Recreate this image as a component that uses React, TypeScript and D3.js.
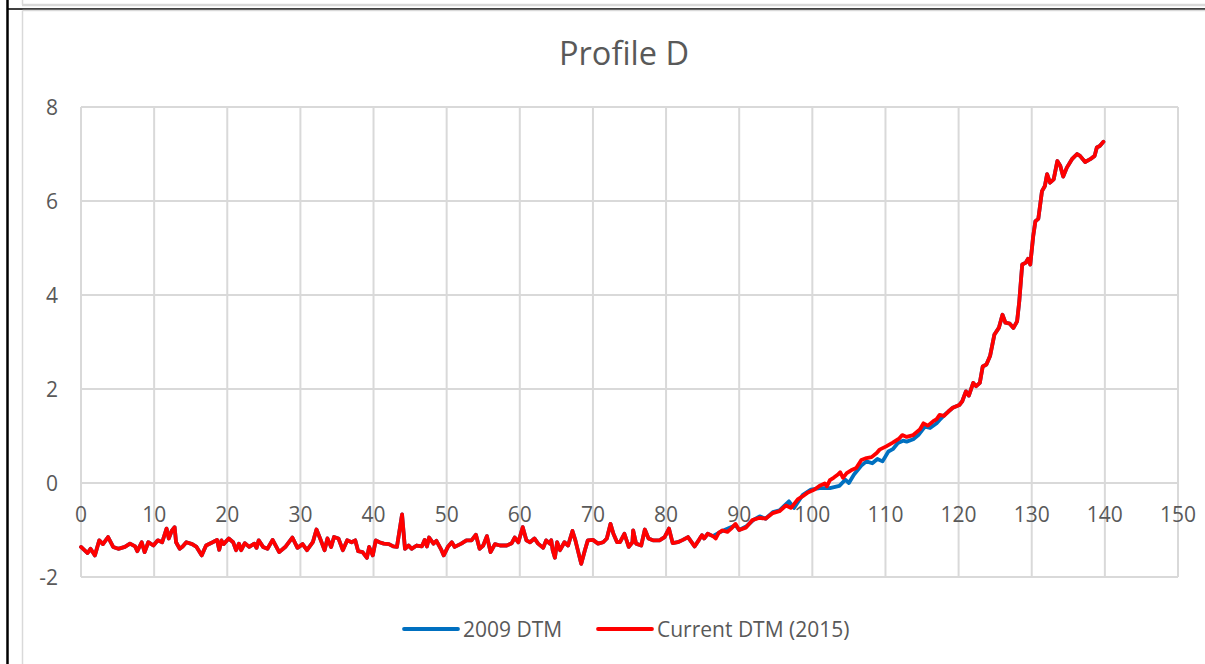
import React, { useRef, useEffect } from "react";
import * as d3 from "d3";

// Profile D: distance (m) vs elevation
const dist2015 = [
  0, 0.9, 1.3, 1.9, 2.5, 3.0, 3.7, 4.4, 5.1, 6.0, 6.7, 7.4, 7.7, 8.3, 8.7, 9.2, 9.9,
  10.5, 11.1, 11.7, 12.0, 12.4, 12.8, 13.0, 13.5, 13.9, 14.4, 15.2, 15.8, 16.5, 17.1,
  18.0, 18.6, 18.9, 19.2, 19.5, 20.2, 20.8, 21.2, 21.6, 21.9, 22.4, 23.0, 23.7, 24.0,
  24.3, 24.9, 25.5, 26.2, 27.1, 28.0, 28.9, 29.6, 30.3, 30.9, 31.7, 32.2, 32.8, 33.3,
  33.7, 34.2, 34.6, 35.2, 35.8, 36.4, 37.0, 37.5, 37.9, 38.5, 39.1, 39.4, 39.9, 40.3,
  40.8, 41.4, 42.1, 42.7, 43.2, 43.9, 44.3, 44.8, 45.2, 45.9, 46.6, 47.0, 47.3, 47.6,
  48.2, 48.6, 49.2, 49.6, 50.2, 50.7, 51.1, 52.0, 52.7, 53.4, 54.0, 54.5, 55.0, 55.5,
  56.0, 56.6, 57.3, 58.2, 58.9, 59.3, 59.8, 60.4, 60.9, 61.4, 62.0, 62.5, 63.2, 63.6,
  64.1, 64.3, 64.5, 64.8, 65.1, 65.5, 66.1, 66.6, 67.2, 67.6, 68.0, 68.4, 68.9, 69.3,
  70.0, 70.7, 71.4, 71.9, 72.4, 72.8, 73.3, 73.7, 74.3, 74.9, 75.4, 75.5, 75.9, 76.6,
  77.1, 77.6, 78.2, 79.1, 79.8, 80.4, 80.9, 81.6, 82.3, 83.0, 83.9, 84.5, 84.9, 85.2,
  85.7, 86.4, 86.8, 87.2, 87.7, 88.4, 88.9, 89.5, 90.0, 90.9, 91.4, 91.8, 92.8, 93.6,
  94.6, 95.5, 96.4, 97.1, 98.0, 98.7, 99.4, 100.3, 101.0, 101.7, 102.0, 102.4, 102.9,
  103.5, 103.8, 104.2, 104.7, 105.3, 106.0, 106.7, 107.4, 108.1, 108.8, 109.2, 110.1,
  111.0, 111.9, 112.3, 112.9, 113.8, 114.7, 115.2, 115.8, 116.5, 117.0, 117.4, 118.0,
  118.6, 119.2, 120.1, 120.5, 121.0, 121.4, 122.0, 122.4, 122.9, 123.3, 123.8, 124.3,
  124.9, 125.5, 126.0, 126.4, 127.0, 127.5, 128.0, 128.3, 128.7, 129.2, 129.5, 129.8,
  130.2, 130.5, 130.9, 131.4, 131.8, 132.1, 132.5, 133.0, 133.5, 133.9, 134.3, 134.8,
  135.5, 136.2, 136.6, 137.3, 138.0, 138.6, 138.9, 139.3, 139.8,
];
const elev2015 = [
  -1.36, -1.49, -1.4, -1.54, -1.22, -1.3, -1.15, -1.36, -1.4, -1.36, -1.29, -1.35, -1.45,
  -1.26, -1.47, -1.26, -1.33, -1.22, -1.26, -0.97, -1.18, -1.02, -0.94, -1.26, -1.4, -1.35,
  -1.26, -1.3, -1.36, -1.54, -1.33, -1.26, -1.21, -1.42, -1.22, -1.3, -1.18, -1.26, -1.43,
  -1.29, -1.43, -1.28, -1.36, -1.29, -1.38, -1.22, -1.36, -1.4, -1.21, -1.47, -1.35, -1.16,
  -1.38, -1.3, -1.43, -1.26, -0.99, -1.22, -1.43, -1.18, -1.36, -1.15, -1.18, -1.43, -1.22,
  -1.26, -1.22, -1.45, -1.47, -1.59, -1.36, -1.54, -1.22, -1.26, -1.29, -1.3, -1.35, -1.36,
  -0.67, -1.4, -1.33, -1.4, -1.33, -1.35, -1.21, -1.35, -1.16, -1.29, -1.23, -1.4, -1.54,
  -1.35, -1.26, -1.36, -1.29, -1.22, -1.22, -1.1, -1.4, -1.33, -1.13, -1.47, -1.3, -1.33,
  -1.33, -1.28, -1.16, -1.26, -0.94, -1.22, -1.26, -1.18, -1.29, -1.38, -1.22, -1.29, -1.22,
  -1.43, -1.59, -1.26, -1.43, -1.26, -1.33, -1.02, -1.22, -1.47, -1.72, -1.43, -1.22, -1.21,
  -1.29, -1.26, -1.18, -0.87, -1.08, -1.26, -1.26, -1.08, -1.36, -1.26, -1.01, -1.29, -1.33,
  -0.99, -1.18, -1.22, -1.22, -1.15, -0.97, -1.28, -1.26, -1.21, -1.15, -1.35, -1.21, -1.11,
  -1.18, -1.08, -1.13, -1.18, -1.06, -1.01, -1.04, -0.97, -0.87, -1.0, -0.95, -0.86, -0.79,
  -0.74, -0.76, -0.64, -0.6, -0.48, -0.53, -0.35, -0.28, -0.2, -0.14, -0.06, -0.01, -0.07,
  0.06, 0.11, 0.18, 0.23, 0.11, 0.21, 0.27, 0.32, 0.49, 0.53, 0.55, 0.64, 0.71, 0.78, 0.86,
  0.95, 1.02, 0.98, 1.02, 1.14, 1.27, 1.22, 1.31, 1.36, 1.45, 1.43, 1.52, 1.6, 1.66, 1.74,
  1.95, 1.86, 2.13, 2.06, 2.13, 2.48, 2.52, 2.7, 3.16, 3.3, 3.58, 3.41, 3.39, 3.3, 3.44,
  3.87, 4.65, 4.69, 4.77, 4.65, 5.25, 5.57, 5.62, 6.21, 6.32, 6.57, 6.39, 6.46, 6.85, 6.75,
  6.52, 6.71, 6.89, 7.0, 6.96, 6.83, 6.89, 6.96, 7.14, 7.17, 7.26,
];

// 2009 DTM where it departs from the 2015 survey (elsewhere the two coincide)
const dist2009 = [
  86.4, 87.2, 88.0, 88.7, 89.5, 90.0, 91.0, 92.0, 92.8, 93.6, 94.6, 95.5, 96.8, 97.5, 98.7,
  99.8, 101.0, 102.4, 103.7, 104.5, 105.0, 105.7, 106.7, 107.4, 108.2, 108.9, 109.6, 110.4,
  111.0, 111.7, 112.4, 112.9, 113.8, 114.5, 115.4, 116.1, 117.0, 117.4, 118.3, 119.2,
];
const elev2009 = [
  -1.13, -1.06, -1.0, -0.95, -0.9, -1.0, -0.92, -0.78, -0.71, -0.76, -0.62, -0.58, -0.39,
  -0.53, -0.25, -0.14, -0.11, -0.11, -0.06, 0.07, 0.0, 0.18, 0.37, 0.46, 0.42, 0.51, 0.46,
  0.67, 0.72, 0.85, 0.9, 0.88, 0.93, 1.02, 1.2, 1.17, 1.27, 1.34, 1.48, 1.6,
];

const xTicks = d3.range(0, 151, 10);
const yTicks = [-2, 0, 2, 4, 6, 8];
const seriesNames = ["2009 DTM", "Current DTM (2015)"];
const seriesColors = ["#0070c0", "#ff0000"];

const W = 1205;
const H = 664;
const FONT = "'Open Sans', 'Noto Sans', sans-serif";
const TEXT = "#595959";
const GRID = "#d9d9d9";

const App = () => {
  const ref = useRef<SVGSVGElement>(null);

  useEffect(() => {
    const svg = d3.select(ref.current);
    svg.selectAll("*").remove();

    const x = d3.scaleLinear().domain([0, 150]).range([81, 1178]);
    const y = d3.scaleLinear().domain([-2, 8]).range([577, 107]);

    // spreadsheet cell borders around the chart
    svg.append("rect").attr("width", W).attr("height", H).attr("fill", "#fff");
    svg.append("line").attr("x1", 22).attr("x2", W).attr("y1", 5).attr("y2", 5)
      .attr("stroke", GRID).attr("stroke-width", 2.5);
    svg.append("line").attr("x1", 22.5).attr("x2", 22.5).attr("y1", 0).attr("y2", 5)
      .attr("stroke", GRID).attr("stroke-width", 1.5);
    svg.append("line").attr("x1", 7.5).attr("x2", W).attr("y1", 9).attr("y2", 9)
      .attr("stroke", "#000").attr("stroke-width", 1.5);
    svg.append("line").attr("x1", 7.5).attr("x2", 7.5).attr("y1", 0).attr("y2", H)
      .attr("stroke", "#000").attr("stroke-width", 2.5);
    svg.append("line").attr("x1", 22.5).attr("x2", W).attr("y1", 10.5).attr("y2", 10.5)
      .attr("stroke", GRID).attr("stroke-width", 1.5);
    svg.append("line").attr("x1", 22.5).attr("x2", 22.5).attr("y1", 10.5).attr("y2", H)
      .attr("stroke", GRID).attr("stroke-width", 1.5);

    svg.append("text")
      .attr("x", 624).attr("y", 65)
      .attr("text-anchor", "middle")
      .attr("font-family", FONT).attr("font-size", 32.5).attr("fill", TEXT)
      .text("Profile D");

    // grid
    const grid = svg.append("g").attr("stroke", GRID).attr("stroke-width", 2);
    grid.selectAll("line.v").data(xTicks).join("line").attr("class", "v")
      .attr("x1", d => x(d)).attr("x2", d => x(d))
      .attr("y1", y(8)).attr("y2", y(-2));
    grid.selectAll("line.h").data(yTicks).join("line").attr("class", "h")
      .attr("x1", x(0)).attr("x2", x(150))
      .attr("y1", d => y(d)).attr("y2", d => y(d));

    // tick labels
    svg.append("g").selectAll("text").data(yTicks).join("text")
      .attr("x", 58).attr("y", d => y(d) + 7.5)
      .attr("text-anchor", "end")
      .attr("font-family", FONT).attr("font-size", 21).attr("fill", TEXT)
      .text(d => d);
    svg.append("g").selectAll("text").data(xTicks).join("text")
      .attr("x", d => x(d)).attr("y", y(0) + 38.5)
      .attr("text-anchor", "middle")
      .attr("font-family", FONT).attr("font-size", 21).attr("fill", TEXT)
      .text(d => d);

    const pts2015 = dist2015.map((d, i) => [d, elev2015[i]] as [number, number]);
    const lo = dist2009[0];
    const hi = dist2009[dist2009.length - 1];
    const pts2009 = [
      ...pts2015.filter(p => p[0] < lo),
      ...dist2009.map((d, i) => [d, elev2009[i]] as [number, number]),
      ...pts2015.filter(p => p[0] > hi),
    ];

    const line = d3.line<[number, number]>().x(d => x(d[0])).y(d => y(d[1]));

    [pts2009, pts2015].forEach((pts, i) => {
      svg.append("path")
        .datum(pts)
        .attr("fill", "none")
        .attr("stroke", seriesColors[i])
        .attr("stroke-width", 3.8)
        .attr("stroke-linejoin", "round")
        .attr("stroke-linecap", "round")
        .attr("d", line);
    });

    // legend
    const legendX = [404, 598];
    seriesNames.forEach((name, i) => {
      svg.append("line")
        .attr("x1", legendX[i]).attr("x2", legendX[i] + 54)
        .attr("y1", 629).attr("y2", 629)
        .attr("stroke", seriesColors[i]).attr("stroke-width", 3.8)
        .attr("stroke-linecap", "round");
      svg.append("text")
        .attr("x", legendX[i] + 59).attr("y", 636.5)
        .attr("font-family", FONT).attr("font-size", 21).attr("fill", TEXT)
        .text(name);
    });
  }, []);

  return (
    <svg
      ref={ref}
      width={W}
      height={H}
      style={{ position: "absolute", left: 0, top: 0, display: "block" }}
    />
  );
};

export default App;
